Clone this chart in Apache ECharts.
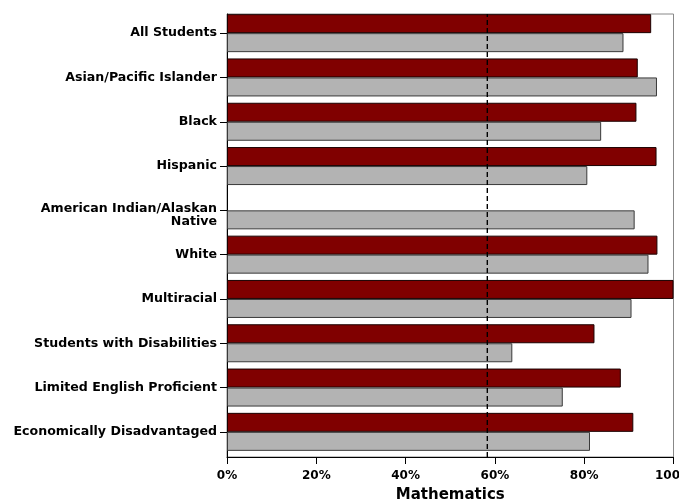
<!DOCTYPE html>
<html><head><meta charset="utf-8">
<script src="https://cdn.jsdelivr.net/npm/echarts@6/dist/echarts.min.js"></script>
<style>html,body{margin:0;padding:0;background:#fff}#c{width:679px;height:502px}</style>
</head><body><div id="c"></div>
<script>
const categories = ["All Students","Asian/Pacific Islander","Black","Hispanic","American Indian/Alaskan\nNative","White","Multiracial","Students with Disabilities","Limited English Proficient","Economically Disadvantaged"];
const seriesRed = [95.0, 92.0, 91.7, 96.2, null, 96.4, 100, 82.3, 88.2, 91.0];
const seriesGray = [88.8, 96.3, 83.8, 80.7, 91.3, 94.4, 90.6, 63.9, 75.2, 81.3];
const targetValue = 58.3;
const xTicks = [0, 20, 40, 60, 80, 100];

const font = 'DejaVu Sans, Verdana, sans-serif';
const lblStyle = {color: '#000', fontFamily: font, fontWeight: 'bold', fontSize: 12.6, lineHeight: 13, align: 'right'};
const chart = echarts.init(document.getElementById('c'), null, {renderer: 'canvas'});
chart.setOption({
  animation: false,
  grid: [
    {left: 227, top: 11, width: 446.5, height: 443, show: false, containLabel: false, outerBoundsMode: 'none'},
    {left: 227, top: 14, width: 446.5, height: 443, show: true, borderColor: '#888', borderWidth: 1, backgroundColor: 'transparent', containLabel: false, outerBoundsMode: 'none'}
  ],
  xAxis: [
    {gridIndex: 0, type: 'value', min: 0, max: 100, show: false},
    {gridIndex: 1, type: 'value', min: xTicks[0], max: xTicks[xTicks.length - 1], interval: 20,
      axisLine: {show: true, lineStyle: {color: '#000', width: 1}},
      axisTick: {show: true, length: 7, lineStyle: {color: '#000'}},
      splitLine: {show: false},
      axisLabel: {formatter: v => v + '%', color: '#000', fontFamily: font, fontWeight: 'bold', fontSize: 12, margin: 13, hideOverlap: false, showMaxLabel: true},
      name: 'Mathematics', nameLocation: 'middle', nameGap: 31,
      nameTextStyle: {color: '#000', fontFamily: font, fontWeight: 'bold', fontSize: 15}
    }
  ],
  yAxis: [
    {gridIndex: 0, type: 'category', data: categories, inverse: true,
      axisLine: {show: false},
      axisTick: {show: true, alignWithLabel: true, length: 7, lineStyle: {color: '#000'}},
      axisLabel: Object.assign({}, lblStyle, {margin: 10,
        formatter: v => {
          const parts = v.split('\n');
          if (parts.length === 1) return '{n|' + v + '}';
          return '{f|' + parts[0] + '}\n{f|' + parts[1] + '}';
        },
        rich: {
          n: Object.assign({}, lblStyle),
          f: Object.assign({}, lblStyle, {padding: [9, 0, 0, 0]})
        }
      })
    },
    {gridIndex: 1, type: 'value', min: 0, max: 1, show: true,
      axisLine: {show: true, lineStyle: {color: '#000', width: 1}},
      axisTick: {show: false}, axisLabel: {show: false}, splitLine: {show: false}
    }
  ],
  series: [
    {type: 'bar', xAxisIndex: 0, yAxisIndex: 0, data: seriesRed, barWidth: 19, barGap: '0%',
      itemStyle: {color: '#800000', borderColor: '#1a0000', borderWidth: 1}},
    {type: 'bar', xAxisIndex: 0, yAxisIndex: 0, data: seriesGray, barWidth: 19, barGap: '0%',
      itemStyle: {color: '#b3b3b3', borderColor: '#3a3a3a', borderWidth: 1}},
    {type: 'line', xAxisIndex: 1, yAxisIndex: 1, data: [[targetValue, 0], [targetValue, 1]],
      symbol: 'none', lineStyle: {color: '#000', width: 1.4, type: [5, 3]}, z: 5}
  ]
});
</script></body></html>
